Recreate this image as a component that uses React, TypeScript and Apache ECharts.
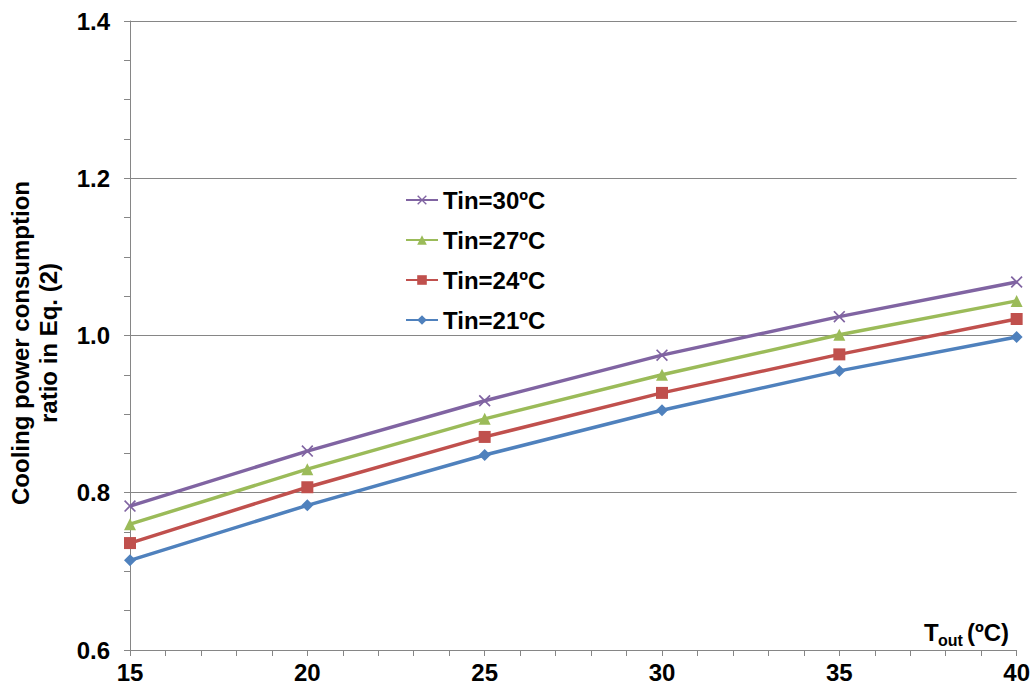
import React, { useEffect, useRef } from "react";
import * as echarts from "echarts";

const xValues = [15, 20, 25, 30, 35, 40];
const seriesNames = ["Tin=30ºC", "Tin=27ºC", "Tin=24ºC", "Tin=21ºC"];
const tin30 = [0.783, 0.853, 0.917, 0.975, 1.024, 1.068];
const tin27 = [0.76, 0.83, 0.894, 0.95, 1.001, 1.044];
const tin24 = [0.736, 0.807, 0.871, 0.927, 0.976, 1.021];
const tin21 = [0.714, 0.784, 0.848, 0.905, 0.955, 0.998];
const seriesColors = ["#8064A2", "#9BBB59", "#C0504D", "#4F81BD"];
const FONT = "Arial, 'Liberation Sans', sans-serif";

const crossPath =
  "path://M0,1L1,0L5,4L9,0L10,1L6,5L10,9L9,10L5,6L1,10L0,9L4,5Z";

export default function App() {
  const ref = useRef<HTMLDivElement>(null);
  useEffect(() => {
    if (!ref.current) return;
    const chart = echarts.init(ref.current, null, { renderer: "svg" });
    const datasets = [tin30, tin27, tin24, tin21];
    const symbols = [crossPath, "triangle", "rect", "diamond"];
    const sizes = [12, 12, 12, 12];
    chart.setOption({
      animation: false,
      backgroundColor: "#fff",
      grid: { left: 130, right: 16, top: 21, bottom: 43 },
      legend: {
        orient: "vertical",
        left: 400,
        top: 183,
        itemGap: 16,
        itemWidth: 32,
        itemHeight: 12,
        data: seriesNames,
        textStyle: { fontFamily: FONT, fontWeight: "bold", fontSize: 24, color: "#000" },
      },
      xAxis: {
        type: "value",
        min: 15,
        max: 40,
        interval: 5,
        axisLine: { lineStyle: { color: "#868686", width: 1 } },
        axisTick: { show: true, length: 6, lineStyle: { color: "#868686" } },
        minorTick: { show: true, splitNumber: 5, length: 6, lineStyle: { color: "#868686" } },
        splitLine: { show: false },
        axisLabel: {
          fontFamily: FONT,
          fontWeight: "bold",
          fontSize: 24,
          color: "#000",
          margin: 10,
        },
      },
      yAxis: {
        type: "value",
        min: 0.6,
        max: 1.4,
        interval: 0.2,
        axisLine: { show: true, lineStyle: { color: "#868686", width: 1 } },
        axisTick: { show: true, length: 6, lineStyle: { color: "#868686" } },
        minorTick: { show: true, splitNumber: 4, length: 6, lineStyle: { color: "#868686" } },
        splitLine: { show: true, lineStyle: { color: "#868686", width: 1 } },
        axisLabel: {
          fontFamily: FONT,
          fontWeight: "bold",
          fontSize: 24,
          color: "#000",
          margin: 20,
          formatter: (v: number) => v.toFixed(1),
        },
      },
      series: seriesNames.map((name, i) => ({
        name,
        type: "line",
        data: xValues.map((x, j) => [x, datasets[i][j]]),
        symbol: symbols[i],
        symbolSize: sizes[i],
        showSymbol: true,
        lineStyle: { color: seriesColors[i], width: 3.5 },
        itemStyle: { color: seriesColors[i] },
        z: 10 - i,
      })),
      graphic: [
        {
          type: "text",
          x: 20,
          y: 343,
          rotation: Math.PI / 2,
          style: {
            text: "Cooling power consumption",
            font: `bold 24px ${FONT}`,
            fill: "#000",
            textAlign: "center",
            textVerticalAlign: "middle",
          },
        },
        {
          type: "text",
          x: 48,
          y: 343,
          rotation: Math.PI / 2,
          style: {
            text: "ratio in Eq. (2)",
            font: `bold 24px ${FONT}`,
            fill: "#000",
            textAlign: "center",
            textVerticalAlign: "middle",
          },
        },
        {
          type: "text",
          x: 924,
          y: 632,
          style: { text: "T", font: `bold 24px ${FONT}`, fill: "#000", textVerticalAlign: "middle" },
        },
        {
          type: "text",
          x: 938,
          y: 640,
          style: { text: "out", font: `bold 16px ${FONT}`, fill: "#000", textVerticalAlign: "middle" },
        },
        {
          type: "text",
          x: 967,
          y: 632,
          style: { text: "(ºC)", font: `bold 24px ${FONT}`, fill: "#000", textVerticalAlign: "middle" },
        },
      ],
    });
    return () => chart.dispose();
  }, []);
  return (
    <div
      ref={ref}
      style={{ position: "fixed", left: 0, top: 0, width: 1033, height: 693 }}
    />
  );
}
